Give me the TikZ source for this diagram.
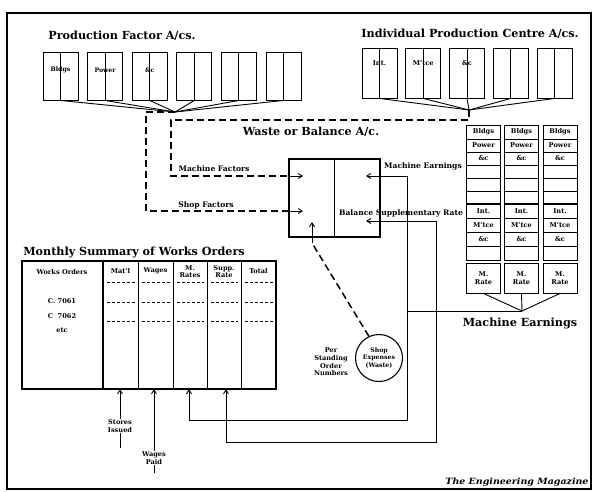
\documentclass[tikz,border=0pt]{standalone}
\usepackage{fontspec}
\setmainfont{DejaVu Serif}
\usetikzlibrary{arrows.meta}
\begin{document}
\begin{tikzpicture}[x=1pt,y=-1pt,
  ttl/.style={font=\fontsize{11.2}{13}\selectfont\bfseries, inner sep=0},
  lbl/.style={font=\fontsize{7.6}{9}\selectfont\bfseries, inner sep=0},
  sml/.style={font=\fontsize{6.6}{7.6}\selectfont\bfseries, inner sep=0, align=center},
  tny/.style={font=\fontsize{6.2}{7.2}\selectfont\bfseries, inner sep=0, align=center},
  acbox/.style={draw, line width=0.9pt, minimum width=35pt, inner sep=0},
  dsh/.style={line width=1.5pt, dash pattern=on 7pt off 4pt},
  tdsh/.style={line width=0.8pt, dash pattern=on 3pt off 2pt},
  ln/.style={line width=0.9pt},
  tip/.tip={Straight Barb[length=4pt,width=5pt]},
  arr/.style={-tip, line width=0.9pt}]
\useasboundingbox (0,0) rectangle (594,491);
\fill[white] (0,0) rectangle (594,491);
% frame
\draw[line width=1.2pt] (7,13) rectangle (591,489);
\draw[line width=2.6pt] (7,13) -- (7,489);

% ---------- Production factor accounts
\node[ttl] (pft) at (122,36) {Production Factor A/cs.};
\coordinate (pfc) at (175,112);
\foreach \i in {0,...,5}{
  \node[acbox, minimum height=48pt] (pf\i) at ({60.5+44.6*\i},76) {};
  \draw[ln] (pf\i.north) -- (pf\i.south);
  \draw[ln] (pf\i.south) -- (pfc);
}
\node[tny] (pl0) at (60.5,70) {Bldgs};
\node[tny] (pl1) at (105.1,70) {Power};
\node[tny] (pl2) at (149.7,70) {\&c};

% ---------- Individual production centre accounts
\node[ttl] (ipt) at (470,34) {Individual Production Centre A/cs.};
\coordinate (ipc) at (469,110);
\foreach \i in {0,...,4}{
  \node[acbox, minimum height=50pt] (ip\i) at ({379.5+43.75*\i},73) {};
  \draw[ln] (ip\i.north) -- (ip\i.south);
  \draw[ln] (ip\i.south) -- (ipc);
}
\node[sml] (il0) at (379.5,63) {Int.};
\node[sml] (il1) at (423.25,63) {M'tce};
\node[sml] (il2) at (467,63) {\&c};

% ---------- Waste or balance account
\node[ttl] (wbt) at (311,132) {Waste or Balance A/c.};
\node[draw, line width=1.2pt, minimum width=91pt, minimum height=78pt, inner sep=0] (cbox) at (334.5,198) {};
\draw[line width=1.1pt] (cbox.north) -- (cbox.south);

\coordinate (mfin) at (289,176);
\coordinate (mfa) at (303,176);
\coordinate (sfin) at (289,211);
\coordinate (sfa) at (303,211);
\draw[dsh] (ipc) |- (171,120) |- (mfin);
\draw[arr] (mfin) -- (mfa);
\draw[dsh] (pfc) -| (146,211) -- (sfin);
\draw[arr] (sfin) -- (sfa);
\node[lbl] (mft) at (214,169) {Machine Factors};
\node[lbl] (sft) at (206,205) {Shop Factors};

% ---------- Machine earnings / supplementary rate
\node[lbl] (met) at (423,166) {Machine Earnings};
\node[lbl] (bst) at (401,213) {Balance Supplementary Rate};

% ---------- Right-hand columns
\foreach \i/\cx in {0/483.5,1/521.5,2/560}{
  \node[acbox, minimum width=34pt, minimum height=135pt] (col\i) at (\cx,192.5) {};
  \foreach \yy in {139,152,165,178,191,218,232,246}{
    \draw[line width=0.7pt] ({\cx-17},\yy) -- ({\cx+17},\yy);
  }
  \draw[line width=1.3pt] ({\cx-17},204) -- ({\cx+17},204);
  \draw[line width=1.0pt] ({\cx-17},260) -- ({\cx+17},260);
  \node[sml] (cb\i) at (\cx,132) {Bldgs};
  \node[sml] (cp\i) at (\cx,145.5) {Power};
  \node[sml] (cc\i) at (\cx,158.5) {\&c};
  \node[sml] (ci\i) at (\cx,211) {Int.};
  \node[sml] (cm\i) at (\cx,225) {M'tce};
  \node[sml] (cd\i) at (\cx,239) {\&c};
  \node[acbox, sml, minimum width=34pt, minimum height=30pt] (mr\i) at (\cx,278) {M.\\Rate};
}
\coordinate (mec) at (522,311);
\foreach \i in {0,1,2}{ \draw[ln] (mr\i.south) -- (mec); }
\coordinate (mej) at (407,311);
\draw[ln] (mec) -- (mej);
\node[ttl] (mebt) at (520,323) {Machine Earnings};

% ---------- Monthly summary of works orders
\node[ttl] (mst) at (134,252) {Monthly Summary of Works Orders};
\node[draw, line width=1.2pt, minimum width=254pt, minimum height=128pt, inner sep=0] (sumt) at (149,325) {};
\draw[line width=1.8pt] (103,261) -- (103,389);
\foreach \xx in {138,173,207,241}{ \draw[line width=1.0pt] (\xx,261) -- (\xx,389); }
\foreach \a/\b in {103/138,138/173,173/207,207/241,241/276}{
  \foreach \yy in {282,302,321}{ \draw[tdsh] ({\a+4},\yy) -- ({\b-3},\yy); }
}
\node[sml] (h0) at (62,272) {Works Orders};
\node[sml] (h1) at (120.5,271) {Mat'l};
\node[sml] (h2) at (155.5,271) {Wages};
\node[sml] (h3) at (190,271.5) {M.\\Rates};
\node[sml] (h4) at (224,271.5) {Supp.\\Rate};
\node[sml] (h5) at (258.5,271) {Total};
\node[sml] (wo1) at (62,301) {C. 7061};
\node[sml] (wo2) at (62,316) {C\ \ 7062};
\node[sml] (wo3) at (62,330) {etc};

% ---------- shop expenses
\node[draw, circle, line width=1.1pt, minimum size=47pt, inner sep=0, tny] (shop) at (379,358) {Shop\\Expenses\\(Waste)};
\coordinate (sha) at (312,243);
\coordinate (shb) at (312,222);
\draw[dsh] (shop.115) -- (sha);
\draw[arr] (sha) -- (shb);
\node[sml] (psn) at (331,362) {Per\\Standing\\Order\\Numbers};

% ---------- connections to summary table
\coordinate (ta3) at (189,389);
\coordinate (ta4) at (226,389);
\coordinate (me1) at (366,176);
\coordinate (bs1) at (366,221);
\draw[ln, tip-tip] (ta3) -- (189,420) -- (407,420) -- (407,176) -- (me1);
\draw[ln, tip-tip] (ta4) -- (226,442) -- (436,442) -- (436,221) -- (bs1);

\coordinate (si0) at (120,448);
\coordinate (ta1) at (120,389);
\coordinate (wp0) at (154,473);
\coordinate (ta2) at (154,389);
\draw[arr] (si0) -- (ta1);
\draw[arr] (wp0) -- (ta2);
\node[sml, fill=white, inner sep=1pt] (sit) at (120,426) {Stores\\Issued};
\node[sml, fill=white, inner sep=1pt] (wpt) at (154,458) {Wages\\Paid};

% ---------- credit
\node[inner sep=0, font=\fontsize{8.6}{10}\selectfont\bfseries\itshape] (cred) at (517,482) {\scalebox{1.1}[1]{The Engineering Magazine}};
\end{tikzpicture}
\end{document}
